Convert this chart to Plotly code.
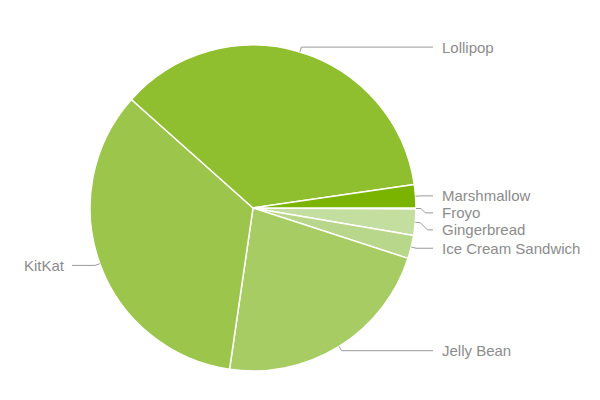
import numpy as np
import plotly.graph_objects as go

labels = ["Froyo", "Gingerbread", "Ice Cream Sandwich", "Jelly Bean", "KitKat", "Lollipop", "Marshmallow"]
values = [0.1, 2.6, 2.3, 22.3, 34.3, 36.1, 2.3]
colors = ["#d4e8b8", "#c4dea0", "#b8d78a", "#a8cc64", "#9cc54c", "#8fbe2e", "#7bb400"]

W, H = 600, 400
CX, CY, R = 253, 208, 163          # pie centre/radius in pixels
LABEL_X_RIGHT, LABEL_X_LEFT = 440, 67
EXT = 5
SPACING = 17

def px(x):
    return x / W

def py(y):
    return 1 - y / H

fig = go.Figure(go.Pie(
    labels=labels, values=values, sort=False, direction="clockwise", rotation=90,
    marker=dict(colors=colors, line=dict(color="white", width=1.5)),
    textinfo="none", hoverinfo="label+percent", showlegend=False,
    domain=dict(x=[px(CX - R), px(CX + R)], y=[py(CY + R), py(CY - R)]),
))

vals = np.array(values, dtype=float)
frac = vals / vals.sum()
mid = np.cumsum(frac) - frac / 2
ang = mid * 2 * np.pi  # clockwise from 3 o'clock, y down
dx, dy = np.cos(ang), np.sin(ang)

items = []
for i, lab in enumerate(labels):
    ex, ey = CX + R * dx[i], CY + R * dy[i]
    ax, ay = CX + (R + EXT) * dx[i], CY + (R + EXT) * dy[i]
    items.append([lab, ex, ey, ax, ay, ay, dx[i] >= 0])

# resolve overlap on the right side (top to bottom)
right = sorted([it for it in items if it[6]], key=lambda t: t[4])
last = -1e9
for it in right:
    if it[5] < last + SPACING:
        it[5] = last + SPACING
    last = it[5]

shapes = []
annotations = []
for lab, ex, ey, ax, ay, ly, is_right in items:
    if is_right:
        bx = ax + (abs(ly - ay) if abs(ly - ay) > 0.5 else 0)
        end = LABEL_X_RIGHT - 7
    else:
        bx = ax
        end = LABEL_X_LEFT + 5
    path = f"M {px(ex)} {py(ey)} L {px(ax)} {py(ay)} L {px(bx)} {py(ly)} L {px(end)} {py(ly)}"
    shapes.append(dict(type="path", path=path, xref="paper", yref="paper",
                       line=dict(color="#9a9a9a", width=1)))
    annotations.append(dict(
        x=px(LABEL_X_RIGHT if is_right else LABEL_X_LEFT), y=py(ly),
        xref="paper", yref="paper", text=lab, showarrow=False,
        xanchor="left" if is_right else "right", yanchor="middle",
        font=dict(family="Liberation Sans, Arial, sans-serif", size=15, color="#8c8c8c"),
    ))

fig.update_layout(
    width=W, height=H, margin=dict(l=0, r=0, t=0, b=0),
    paper_bgcolor="white", plot_bgcolor="white",
    shapes=shapes, annotations=annotations,
)
fig.write_html("out.html")
